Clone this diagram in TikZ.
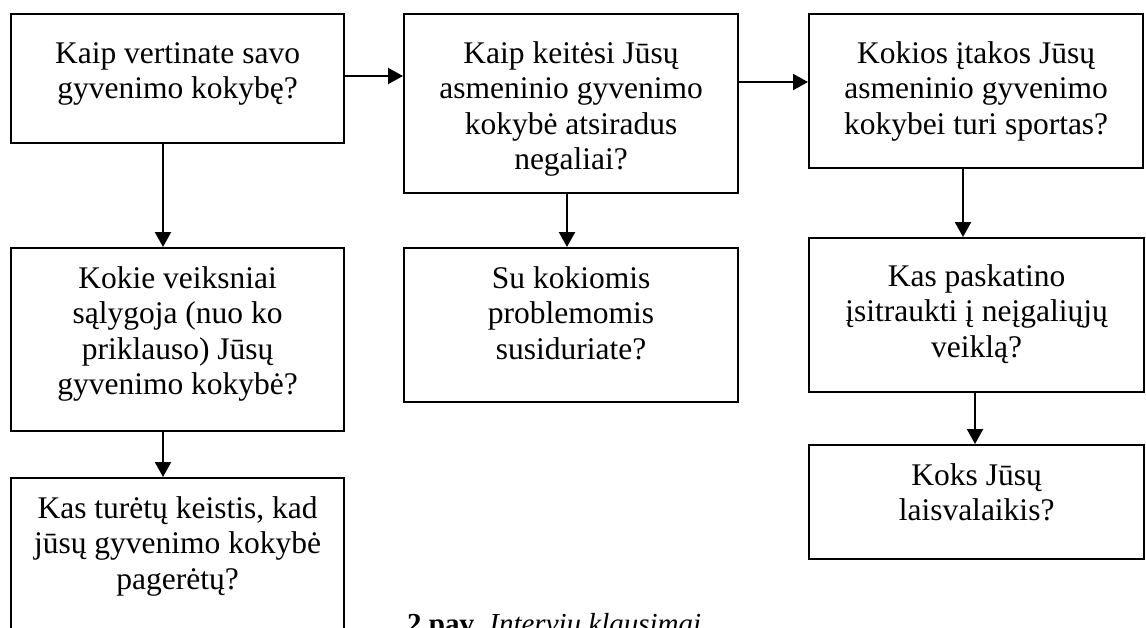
\documentclass[tikz,border=0pt]{standalone}
\usepackage{fontspec}
\setmainfont{Liberation Serif}
\usetikzlibrary{arrows.meta}
\newcommand{\qtext}[4]{\parbox[t][#2][t]{#1}{\centering\fontsize{31.5}{35.5}\selectfont\rule{0pt}{#3}#4}}
\tikzset{
  qbox/.style={draw, line width=2.2pt, inner sep=0pt, anchor=north west},
  arr/.style={line width=2.2pt, -{Triangle[length=15pt,width=16pt]}}
}
\begin{document}
\begin{tikzpicture}[x=1pt,y=-1pt]
\useasboundingbox (0,0) rectangle (1146,627);
\clip (0,0) rectangle (1146,627);
\node[qbox] (A) at (10,13) {\qtext{333pt}{129pt}{49pt}{Kaip vertinate savo\\ gyvenimo kokybę?}};
\node[qbox] (B) at (403,13) {\qtext{334pt}{179pt}{49pt}{Kaip keitėsi Jūsų\\ asmeninio gyvenimo\\ kokybė atsiradus\\ negaliai?}};
\node[qbox] (C) at (808,13) {\qtext{334pt}{154pt}{49pt}{Kokios įtakos Jūsų\\ asmeninio gyvenimo\\ kokybei turi sportas?}};
\node[qbox] (D) at (10,247) {\qtext{333pt}{183pt}{40pt}{Kokie veiksniai\\ sąlygoja (nuo ko\\ priklauso) Jūsų\\ gyvenimo kokybė?}};
\node[qbox] (E) at (10,477) {\qtext{333pt}{190pt}{40pt}{Kas turėtų keistis, kad\\ jūsų gyvenimo kokybė\\ pagerėtų?}};
\node[qbox] (F) at (403,247) {\qtext{334pt}{154pt}{40pt}{Su kokiomis\\ problemomis\\ susiduriate?}};
\node[qbox] (G) at (808,237) {\qtext{335pt}{154pt}{48pt}{Kas paskatino\\ įsitraukti į neįgaliųjų\\ veiklą?}};
\node[qbox] (H) at (808,444) {\qtext{335pt}{114pt}{40pt}{Koks Jūsų\\ laisvalaikis?}};
\draw[arr] (A.east |- 0,76) -- (B.west |- 0,76);
\draw[arr] (B.east |- 0,82) -- (C.west |- 0,82);
\draw[arr] (A.south -| 163,0) -- (D.north -| 163,0);
\draw[arr] (D.south -| 163,0) -- (E.north -| 163,0);
\draw[arr] (B.south -| 567,0) -- (F.north -| 567,0);
\draw[arr] (C.south -| 963,0) -- (G.north -| 963,0);
\draw[arr] (G.south -| 975,0) -- (H.north -| 975,0);
\node[anchor=base west, inner sep=0pt] (cap) at (407,633) {\fontsize{29}{34}\selectfont\textbf{2 pav.} \textit{Interviu klausimai}};
\end{tikzpicture}
\end{document}
